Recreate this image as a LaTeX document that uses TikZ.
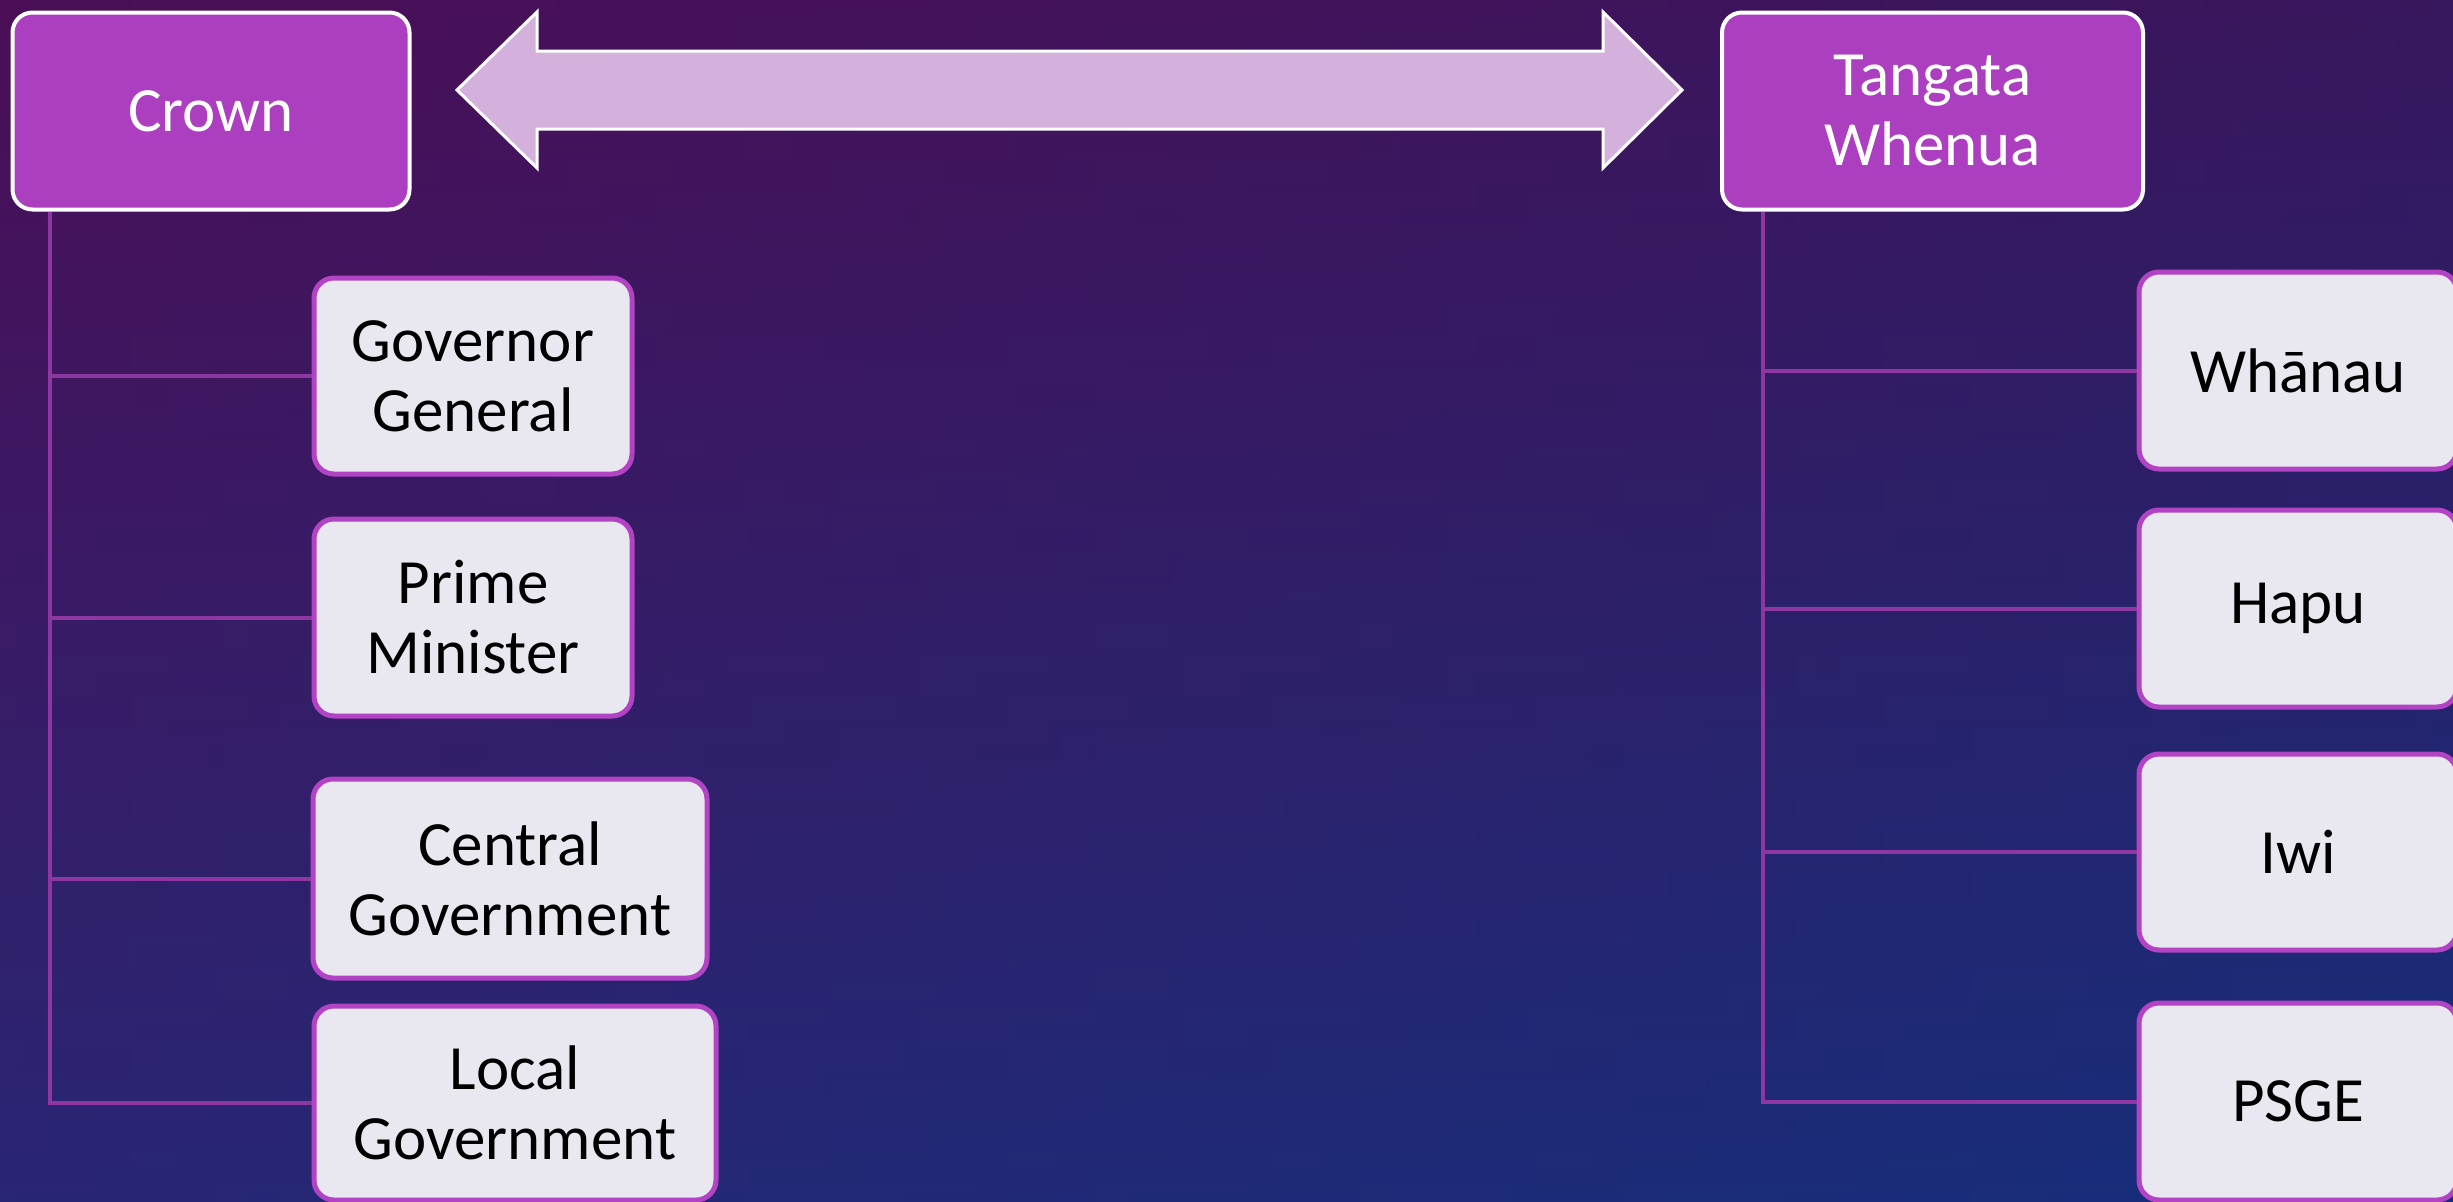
\documentclass[tikz,border=0pt]{standalone}
\usepackage{fontspec}
\setmainfont{Carlito}
\usetikzlibrary{calc}
\definecolor{bgtop}{HTML}{440E52}
\definecolor{bgmid}{HTML}{2A1D63}
\definecolor{bgbot}{HTML}{13307C}
\definecolor{tintL}{HTML}{5C1062}
\definecolor{tintR}{HTML}{1C2C78}
\definecolor{hdrfill}{HTML}{AC3EC0}
\definecolor{childfill}{HTML}{E9E8F0}
\definecolor{childline}{HTML}{B243C4}
\definecolor{connline}{HTML}{8E36A2}
\definecolor{arrowfill}{HTML}{D4B0DC}
\pgfdeclarelayer{bglayer}
\pgfdeclarelayer{connlayer}
\pgfsetlayers{bglayer,connlayer,main}
\begin{document}
\begin{tikzpicture}[x=1pt,y=-1pt,
  hdr/.style={draw=white, line width=4pt, fill=hdrfill, rounded corners=20pt,
    text=white, font=\fontsize{63}{70}\selectfont, align=center, inner sep=0pt},
  childbox/.style={draw=childline, line width=5pt, fill=childfill, rounded corners=20pt,
    text=black, font=\fontsize{63}{70}\selectfont, align=center, inner sep=0pt},
  conn/.style={draw=connline, line width=4pt}]
\useasboundingbox (0,0) rectangle (2453,1202);
\clip (0,0) rectangle (2453,1202);
\begin{pgfonlayer}{bglayer}
\shade[top color=bgtop, middle color=bgmid, bottom color=bgbot] (0,0) rectangle (2453,1202);
\shade[left color=tintL, right color=tintR, opacity=0.3] (0,0) rectangle (2453,1202);
\end{pgfonlayer}

% double arrow
\filldraw[fill=arrowfill, draw=white, line width=3pt, line join=miter]
  (457,90) -- (537,12) -- (537,51) -- (1603,51) -- (1603,12) -- (1682,90)
  -- (1603,168) -- (1603,129) -- (537,129) -- (537,168) -- cycle;

% headers
\node[hdr, minimum width=397pt, minimum height=197pt] (crown) at (211,111) {Crown};
\node[hdr, minimum width=421pt, minimum height=197pt] (tw) at (1932.5,111) {Tangata\\Whenua};

% left children
\node[childbox, minimum width=318pt, minimum height=196pt] (gg) at (473,376) {Governor\\General};
\node[childbox, minimum width=318pt, minimum height=197pt] (pm) at (473,617.5) {Prime\\Minister};
\node[childbox, minimum width=394pt, minimum height=199pt] (cg) at (510,878.5) {Central\\Government};
\node[childbox, minimum width=402pt, minimum height=194pt] (lg) at (515,1103) {Local\\Government};

% right children
\node[childbox, minimum width=318pt, minimum height=197pt] (wh) at (2298,370.5) {Whānau};
\node[childbox, minimum width=318pt, minimum height=197pt] (ha) at (2298,608.5) {Hapu};
\node[childbox, minimum width=318pt, minimum height=196pt] (iw) at (2298,852) {Iwi};
\node[childbox, minimum width=318pt, minimum height=197pt] (ps) at (2298,1101.5) {PSGE};

% connectors
\coordinate (cl) at ($(crown.south west)+(39.5,0)$);
\coordinate (cr) at ($(tw.south west)+(43,0)$);
\begin{pgfonlayer}{connlayer}
\draw[conn] (cl) |- (lg.west);
\draw[conn] (cl |- gg.west) -- (gg.west);
\draw[conn] (cl |- pm.west) -- (pm.west);
\draw[conn] (cl |- cg.west) -- (cg.west);
\draw[conn] (cr) |- (ps.west);
\draw[conn] (cr |- wh.west) -- (wh.west);
\draw[conn] (cr |- ha.west) -- (ha.west);
\draw[conn] (cr |- iw.west) -- (iw.west);
\end{pgfonlayer}
\end{tikzpicture}
\end{document}
